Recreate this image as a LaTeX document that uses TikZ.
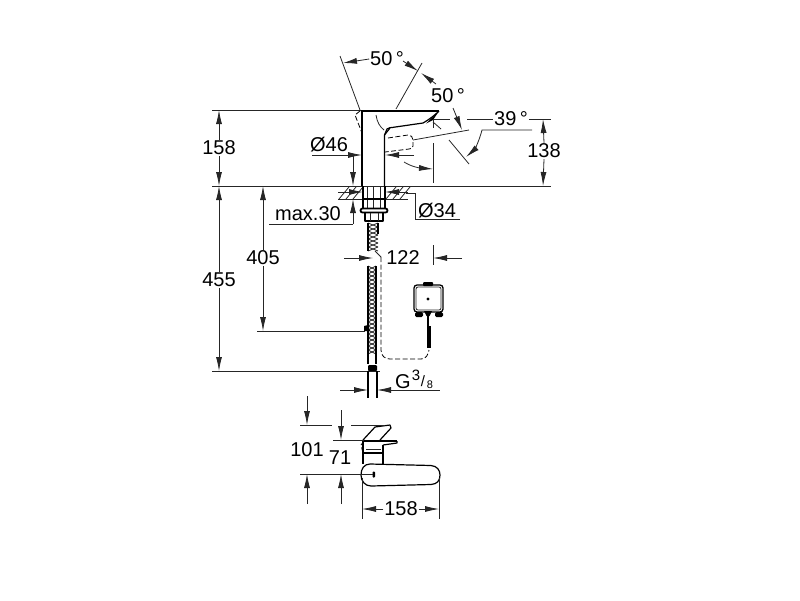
\documentclass[tikz,border=0pt]{standalone}
\usepackage{fontspec}
\setmainfont{Liberation Sans}
\usetikzlibrary{arrows.meta, calc, positioning}

\begin{document}
\begin{tikzpicture}[x=1pt,y=-1pt,font=\fontsize{20}{24}\selectfont]
\tikzset{every node/.style={inner sep=1pt, outer sep=0pt}}

\tikzstyle{thin line}=[line width=0.8pt, draw=black!85]
\tikzstyle{outline}=[line width=1.2pt, draw=black, line join=round]
\tikzstyle{heavy}=[line width=2pt, draw=black]
\tikzstyle{hidden}=[line width=0.8pt, draw=black, dash pattern=on 5pt off 2.5pt]
\tikzstyle{post}=[line width=0.8pt, draw=black!85, -{Latex[length=14pt,width=6pt]}]

\useasboundingbox (0,0) rectangle (800,600);

% extension lines
\coordinate (top left) at (212,110);
\coordinate (top right) at (361,110);
\coordinate (deck left) at (212,186);
\coordinate (deck right) at (551,186);
\coordinate (foot left) at (212,371);
\coordinate (foot right) at (380,371);
\coordinate (tail left) at (257,331);
\coordinate (tail right) at (365,331);
\draw[thin line] (top left) -- (top right);
\draw[thin line] (deck left) -- (deck right);
\draw[thin line] (foot left) -- (foot right);
\draw[thin line] (tail left) -- (tail right);

% tap, side view
\draw[heavy] (361,110.5) -- (439,110.5);
\draw[outline] (362,110) -- (362,186);
\draw[outline] (384.5,186) -- (384.5,135) -- (387,129) .. controls (389,127.5) and (391,127.5) .. (392,127.5) -- (423,123) .. controls (430,119) and (435,115) .. (439,111);
\fill[black] (439,111) -- (433,120) -- (426,123.5) -- cycle;
\draw[outline] (384.5,135) -- (390,128);
\draw[thin line] (376,115) .. controls (377,122) and (380,127) .. (384,130);
\draw[hidden] (360,111) -- (355,115) -- (362,133);
\draw[hidden] (388,138) -- (408,135) .. controls (411,135) and (413,137) .. (413,140) -- (413,146) .. controls (413,148) and (411,149) .. (409,149) -- (385,152);

% basin and fixing
\draw[thin line] (338,199) -- (408,199);
\foreach \x in {339,346,353,386,393,400} {
    \draw[thin line] (\x,199) -- (\x+10,187);
};
\draw[thin line] (367,186) -- (367,208);
\draw[thin line] (373,186) -- (373,208);
\draw[thin line] (380,186) -- (380,208);
\draw[outline] (363,186) -- (363,208);
\draw[outline] (385,186) -- (385,208);
\draw[outline] (363,199) -- (385,199);
\draw[line width=1.8pt, rounded corners=2pt] (360.5,208.5) rectangle (387.5,212.5);
\draw[outline] (365,213) -- (365,221) -- (383,221) -- (383,213);
\draw[thin line] (370,213) -- (370,221);
\draw[thin line] (378,213) -- (378,221);

% hose
\foreach \y in {223,227,...,247} {
    \draw[thin line] (368,\y) -- (378,\y+4);
    \draw[thin line] (378,\y) -- (368,\y+4);
};
\draw[outline] (368,223) -- (368,251);
\draw[outline] (378,223) -- (378,234);
\foreach \y in {266,270,...,350} {
    \draw[thin line] (368,\y) -- (376,\y+4);
    \draw[thin line] (376,\y) -- (368,\y+4);
};
\draw[outline] (368,266) -- (368,364);
\draw[outline] (376,266) -- (376,364);
\fill[black] (364,326) -- (368,325) -- (370,331) -- (364,331) -- cycle;
\fill[black, rounded corners=1pt] (368,365) rectangle (377,371);
\draw[outline] (368,371) -- (368,398);
\draw[outline] (377,371) -- (377,398);

% cable
\draw[thin line] (375,251) -- (381,257);
\draw[hidden] (381,257) -- (381,350) .. controls (381,356) and (385,359) .. (390,359) -- (421,359) .. controls (426,359) and (428,355) .. (429,350);

% control box
\node[draw=black, line width=1.3pt, rounded corners=3pt, minimum width=29pt, minimum height=27pt] (control box) at (428.5,298.5) {};
\draw[thin line, rounded corners=2pt] (416,287) rectangle (441,310);
\fill[black] (428,299) circle (1.7pt);
\fill[black, rounded corners=1pt] (423,282) rectangle (433,286);
\fill[black, rounded corners=1.5pt] (415,312) rectangle (423,317);
\fill[black, rounded corners=1.5pt] (435,312) rectangle (443,317);
\fill[black] (424,311) -- (432,311) -- (429.5,316) -- (426.5,316) -- cycle;
\draw[outline] (428,316) -- (428,326);
\fill[black] (426.5,326) rectangle (430.5,348);

% tap, view from above
\draw[outline] (370,464) -- (431,465.5) .. controls (437,466) and (440,470) .. (440,475) .. controls (440,481) and (437,484) .. (431,484.5) -- (371,486) .. controls (365,486) and (361,481) .. (361,475) .. controls (361,469) and (364,464) .. (370,464);
\fill[black, rounded corners=0.8pt] (372.5,471.5) rectangle (375,477.5);
\draw[outline] (363,440) -- (375,427) -- (390,425) -- (391,428) -- (380,440);
\draw[line width=1.6pt] (363,441) -- (397,441);
\draw[outline] (397,441) -- (397,443) -- (383,445);
\draw[hidden] (364,441) -- (361,445) -- (363,453);
\draw[line width=1.6pt] (363,453) -- (383,453);
\draw[outline] (363,441) -- (363,464);
\draw[outline] (383,445) -- (383,464);
\draw[thin line] (366,449) -- (381,449);

% height of the tap
\node (tap height) at (219,148) {158};
\coordinate (tap height top) at (219,110);
\coordinate (tap height low) at (219,186);
\draw[post] (tap height.north) -- (tap height top);
\draw[post] (tap height.south) -- (tap height low);

% overall height
\node (total height) at (219,280) {455};
\coordinate (total height top) at (219,186);
\coordinate (total height low) at (219,371);
\draw[post] (total height.north) -- (total height top);
\draw[post] (total height.south) -- (total height low);

% tail
\node (tail height) at (263,258) {405};
\coordinate (tail height top) at (263,186);
\coordinate (tail height low) at (263,331);
\draw[post] (tail height.north) -- (tail height top);
\draw[post] (tail height.south) -- (tail height low);

% body diameter
\node (body label) at (329,145) {Ø46};
\coordinate (body rule left) at (312,155);
\coordinate (body rule bend) at (353,155);
\coordinate (body tip) at (362,155);
\coordinate (body tip right) at (385,155);
\coordinate (body tail right) at (414,155);
\coordinate (deck tip) at (353,186);
\draw[post] (body rule left) -- (body tip);
\draw[post] (body tail right) -- (body tip right);
\draw[post] (body rule bend) -- (deck tip);

% thickness of the basin
\node (thickness label) at (308,214) {max.30};
\coordinate (thickness rule left) at (269,224);
\coordinate (thickness rule right) at (353,224);
\coordinate (thickness tip) at (353,199);
\draw[thin line] (thickness rule left) -- (thickness rule right);
\draw[post] (thickness rule right) -- (thickness tip);

% hole diameter
\node (hole label) at (437,211) {Ø34};
\coordinate (hole rule right) at (460,219);
\coordinate (hole rule bend) at (415,219);
\coordinate (hole rule top) at (415,193);
\coordinate (hole rule end) at (406,193);
\draw[thin line] (hole rule right) -- (hole rule bend) -- (hole rule top) -- (hole rule end);
\coordinate (hole tail left) at (338,192);
\coordinate (hole tip left) at (363,192);
\coordinate (hole tail right) at (408,192);
\coordinate (hole tip right) at (385,192);
\draw[post] (hole tail left) -- (hole tip left);
\draw[post] (hole tail right) -- (hole tip right);

% swivel
\node (swivel label) at (387,59) {50\,°};
\coordinate (swivel left top) at (340,56);
\coordinate (swivel left low) at (360,110);
\coordinate (swivel right top) at (422,63);
\coordinate (swivel right low) at (396,109);
\coordinate (swivel tip left) at (343,63);
\coordinate (swivel tail a) at (403,61);
\coordinate (swivel tip a) at (418,71);
\coordinate (swivel tail b) at (436,84);
\coordinate (swivel tip b) at (421,73);
\draw[thin line] (swivel left top) -- (swivel left low);
\draw[thin line] (swivel right top) -- (swivel right low);
\draw[post] (swivel label.west) -- (swivel tip left);
\draw[post] (swivel tail a) -- (swivel tip a);
\draw[post] (swivel tail b) -- (swivel tip b);

% lever, upper position
\node (lever label) at (448,96) {50\,°};
\coordinate (lever start) at (413,140);
\coordinate (lever end) at (469,130);
\coordinate (lever tail) at (453,108);
\coordinate (lever tip) at (462,130);
\draw[thin line] (lever start) -- (lever end);
\draw[post] (lever tail) -- (lever tip);
\coordinate (spout mark top) at (433,119);
\coordinate (spout mark mid) at (433,128);
\coordinate (spout mark gap) at (433,143);
\coordinate (spout mark low) at (433,183);
\coordinate (spout arrow tail) at (404,162);
\coordinate (spout arrow tip) at (433,169);
\draw[thin line] (spout mark top) -- (spout mark mid);
\draw[thin line] (spout mark gap) -- (spout mark low);
\draw[post] (spout arrow tail) .. controls (412,167) and (420,168) .. (spout arrow tip);

% lever, tilt
\node (tilt label) at (511,119) {39\,°};
\coordinate (tilt rule right) at (532,130);
\coordinate (tilt rule bend) at (482,130);
\coordinate (tilt tip) at (466,157);
\coordinate (tilt line top) at (449,140);
\coordinate (tilt line low) at (469,164);
\coordinate (tilt mark top) at (433,122);
\coordinate (tilt mark low) at (441,129);
\draw[thin line] (tilt line top) -- (tilt line low);
\draw[thin line] (tilt mark top) -- (tilt mark low);
\draw[post] (tilt rule right) -- (tilt rule bend) .. controls (479,142) and (474,150) .. (tilt tip);

% height of the lever
\node (lever height) at (544,151) {138};
\coordinate (lever height top) at (543,119);
\coordinate (lever height low) at (543,186);
\coordinate (lever rule a) at (433,119);
\coordinate (lever rule b) at (450,119);
\coordinate (lever rule c) at (467,119);
\coordinate (lever rule d) at (551,119);
\draw[thin line] (lever rule a) -- (lever rule b);
\draw[thin line] (lever rule c) -- (tilt label.west);
\draw[thin line] (tilt label.east) -- (lever rule d);
\draw[post] (lever height.north) -- (lever height top);
\draw[post] (lever height.south) -- (lever height low);

% distance to the box
\node (box distance) at (403,258) {122};
\coordinate (box distance tail) at (344,258);
\coordinate (box distance tip) at (373,258);
\coordinate (box mark top) at (433,245);
\coordinate (box mark low) at (433,265);
\coordinate (box arrow tail) at (462,258);
\coordinate (box arrow tip) at (433,258);
\draw[post] (box distance tail) -- (box distance tip);
\draw[thin line] (box mark top) -- (box mark low);
\draw[post] (box arrow tail) -- (box arrow tip);

% thread
\node[anchor=base] (thread label) at (403,388) {G};
\node[font=\fontsize{15}{18}\selectfont, anchor=base] (thread upper) at (416,380) {3};
\node[font=\fontsize{15}{18}\selectfont, anchor=base] (thread slash) at (423,386) {/};
\node[font=\fontsize{11}{13}\selectfont, anchor=base] (thread lower) at (430,388) {8};
\coordinate (thread tail left) at (340,390);
\coordinate (thread tip left) at (368,390);
\coordinate (thread tail right) at (393,390);
\coordinate (thread tip right) at (377,390);
\coordinate (thread rule right) at (440,390);
\draw[post] (thread tail left) -- (thread tip left);
\draw[post] (thread tail right) -- (thread tip right);
\draw[thin line] (thread tail right) -- (thread rule right);

% dimensions of the view from above
\node (outer depth) at (307,450) {101};
\node (inner depth) at (340,458) {71};
\node (spout length) at (401,509) {158};
\coordinate (outer top) at (307,396);
\coordinate (outer tip) at (307,425);
\coordinate (outer low tail) at (307,504);
\coordinate (outer low tip) at (307,474);
\coordinate (inner top) at (341,410);
\coordinate (inner tip) at (341,440);
\coordinate (inner low tail) at (341,504);
\coordinate (inner low tip) at (341,474);
\draw[post] (outer top) -- (outer tip);
\draw[post] (outer low tail) -- (outer low tip);
\draw[post] (inner top) -- (inner tip);
\draw[post] (inner low tail) -- (inner low tip);
\coordinate (outer rule a) at (300,425);
\coordinate (outer rule b) at (332,425);
\coordinate (outer rule c) at (351,425);
\coordinate (outer rule d) at (385,425);
\coordinate (inner rule a) at (333,440);
\coordinate (inner rule b) at (364,440);
\coordinate (centre rule a) at (300,474);
\coordinate (centre rule b) at (373,474);
\draw[thin line] (outer rule a) -- (outer rule b);
\draw[thin line] (outer rule c) -- (outer rule d);
\draw[thin line] (inner rule a) -- (inner rule b);
\draw[thin line] (centre rule a) -- (centre rule b);
\coordinate (length left) at (362,509);
\coordinate (length right) at (439,509);
\coordinate (length mark left) at (362,478);
\coordinate (length mark left low) at (362,519);
\coordinate (length mark right) at (439,478);
\coordinate (length mark right low) at (439,519);
\draw[post] (spout length.west) -- (length left);
\draw[post] (spout length.east) -- (length right);
\draw[thin line] (length mark left) -- (length mark left low);
\draw[thin line] (length mark right) -- (length mark right low);

\end{tikzpicture}
\end{document}
